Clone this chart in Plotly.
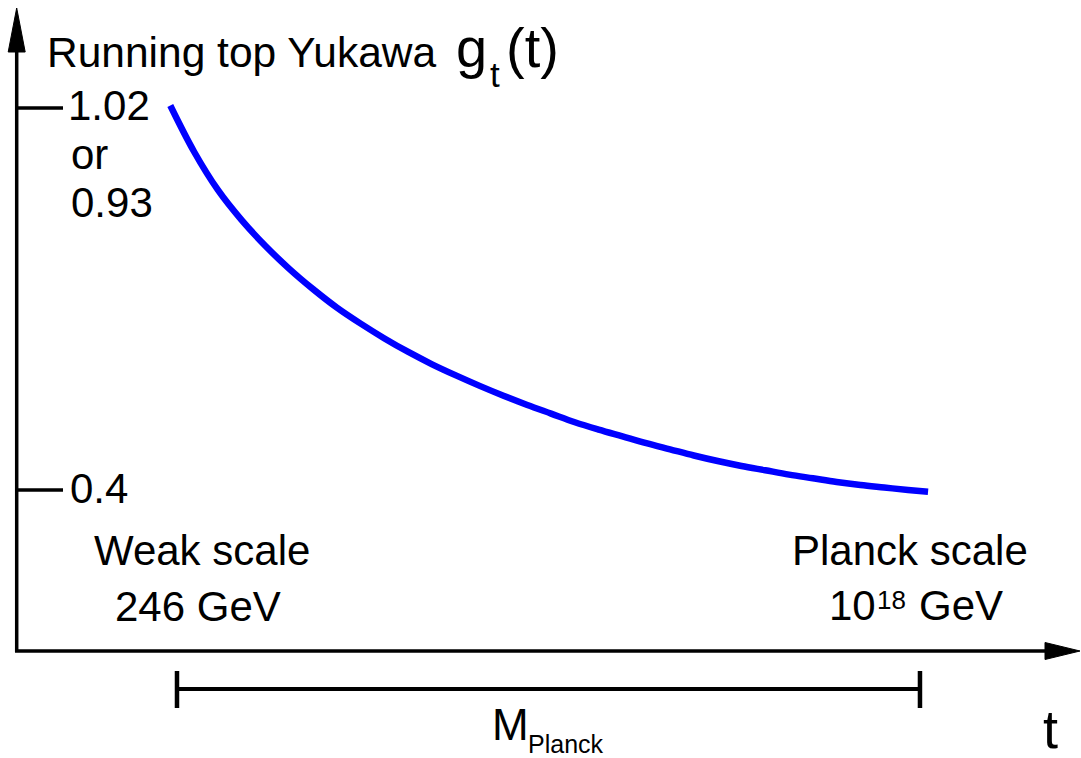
import math
import plotly.graph_objects as go

# ---------------- data ----------------
# x: log10(mu / GeV), y: running top Yukawa coupling g_t
log_mu = [2.25, 2.75, 3.25, 3.75, 4.25, 4.75, 5.25, 5.75, 6.25, 6.75, 7.25, 7.75,
          8.25, 8.75, 9.25, 9.75, 10.25, 10.75, 11.25, 11.75, 12.25, 12.75, 13.25,
          13.75, 14.25, 14.75, 15.25, 15.75, 16.25, 16.75, 17.25, 17.75, 18.17]
g_t = [1.024, 0.949, 0.887, 0.838, 0.796, 0.759, 0.726, 0.696, 0.670, 0.646, 0.624,
       0.604, 0.586, 0.569, 0.553, 0.538, 0.524, 0.510, 0.498, 0.487, 0.476, 0.466,
       0.456, 0.447, 0.439, 0.432, 0.425, 0.419, 0.413, 0.408, 0.404, 0.400, 0.397]

tick_values = [1.02, 0.4]
tick_labels = ["1.02", "0.4"]
alt_labels = ["or", "0.93"]

scale_log_mu = [math.log10(246.0), 18.0]          # weak scale, Planck scale
scale_names = ["Weak scale", "Planck scale"]
weak_energy = "246 GeV"
planck_energy = ["10", "18", "GeV"]              # 10^18 GeV

title_text = "Running top Yukawa"
x_label = "t"
bracket_label = "M"
bracket_sub = "Planck"

# ---------------- geometry helpers (pixels -> paper) ----------------
W, H = 1081, 758
FONT = "Liberation Sans, Arial, sans-serif"


def X(p):
    return p / W


def Y(p):
    return 1 - p / H


fig = go.Figure()
fig.add_trace(go.Scatter(
    x=log_mu, y=g_t, mode="lines",
    line=dict(color="#0000ff", width=6.5, shape="spline", smoothing=1.0),
    hoverinfo="skip", showlegend=False,
))

shapes = []
BLACK = "#000000"
# axes
shapes.append(dict(type="line", xref="paper", yref="paper",
                   x0=X(16.7), y0=Y(652), x1=X(16.7), y1=Y(48),
                   line=dict(color=BLACK, width=3.5)))
shapes.append(dict(type="line", xref="paper", yref="paper",
                   x0=X(15), y0=Y(651), x1=X(1048), y1=Y(651),
                   line=dict(color=BLACK, width=3.5)))
# arrow heads
shapes.append(dict(type="path", xref="paper", yref="paper",
                   path=f"M {X(16.7)},{Y(8)} L {X(8.2)},{Y(52)} L {X(25.2)},{Y(52)} Z",
                   fillcolor=BLACK, line=dict(color=BLACK, width=1)))
shapes.append(dict(type="path", xref="paper", yref="paper",
                   path=f"M {X(1080)},{Y(651)} L {X(1045)},{Y(642.5)} L {X(1045)},{Y(659.5)} Z",
                   fillcolor=BLACK, line=dict(color=BLACK, width=1)))
# y ticks
for v in tick_values:
    shapes.append(dict(type="line", xref="paper", yref="y",
                       x0=X(17), x1=X(63), y0=v, y1=v,
                       line=dict(color=BLACK, width=3.5)))
# bracket between scales
shapes.append(dict(type="line", xref="x", yref="paper",
                   x0=scale_log_mu[0], x1=scale_log_mu[1], y0=Y(689), y1=Y(689),
                   line=dict(color=BLACK, width=4)))
for xv in scale_log_mu:
    shapes.append(dict(type="line", xref="x", yref="paper",
                       x0=xv, x1=xv, y0=Y(671), y1=Y(708),
                       line=dict(color=BLACK, width=4.5)))

annotations = []


def txt(text, xp, yp, size, xanchor="left"):
    annotations.append(dict(
        text=text, xref="paper", yref="paper", x=X(xp), y=Y(yp),
        xanchor=xanchor, yanchor="middle", showarrow=False,
        font=dict(family=FONT, size=size, color=BLACK),
        align="center" if xanchor == "center" else "left",
    ))


S = 42
# title pieces
txt(title_text, 45, 52.3, 42.5)
txt("g", 454, 47.6, 56)
txt("t", 487.5, 74.9, 35)
txt("(t)", 504, 47.6, 56)
# y tick labels
txt(tick_labels[0], 66, 105.45, S)
txt(alt_labels[0], 68.5, 154.45, S)
txt(alt_labels[1], 69, 202.45, S)
txt(tick_labels[1], 68, 488.45, S)
# scale labels
txt(scale_names[0], 202, 550.45, S, "center")
txt(weak_energy, 198, 606.45, S, "center")
txt(scale_names[1], 910, 550.45, S, "center")
txt(planck_energy[0], 826.5, 605.45, S)
txt(planck_energy[1], 874.5, 600.0, 26)
txt(planck_energy[2], 917, 605.45, S)
# axis label t
txt(x_label, 1050, 729.3, 54, "center")
# M_Planck
txt(bracket_label, 489.5, 724.8, 44)
txt(bracket_sub, 526, 743.5, 25)

fig.update_layout(
    width=W, height=H,
    margin=dict(l=0, r=0, t=0, b=0, pad=0),
    paper_bgcolor="white", plot_bgcolor="white",
    xaxis=dict(range=[-1.3275, 21.383], visible=False, fixedrange=True),
    yaxis=dict(range=[-0.035, 1.1953], visible=False, fixedrange=True),
    shapes=shapes, annotations=annotations,
    showlegend=False,
)

fig.write_html(
    "out.html",
    config={"displayModeBar": False, "staticPlot": True},
    post_script="document.body.style.margin='0';document.body.style.overflow='hidden';",
)
